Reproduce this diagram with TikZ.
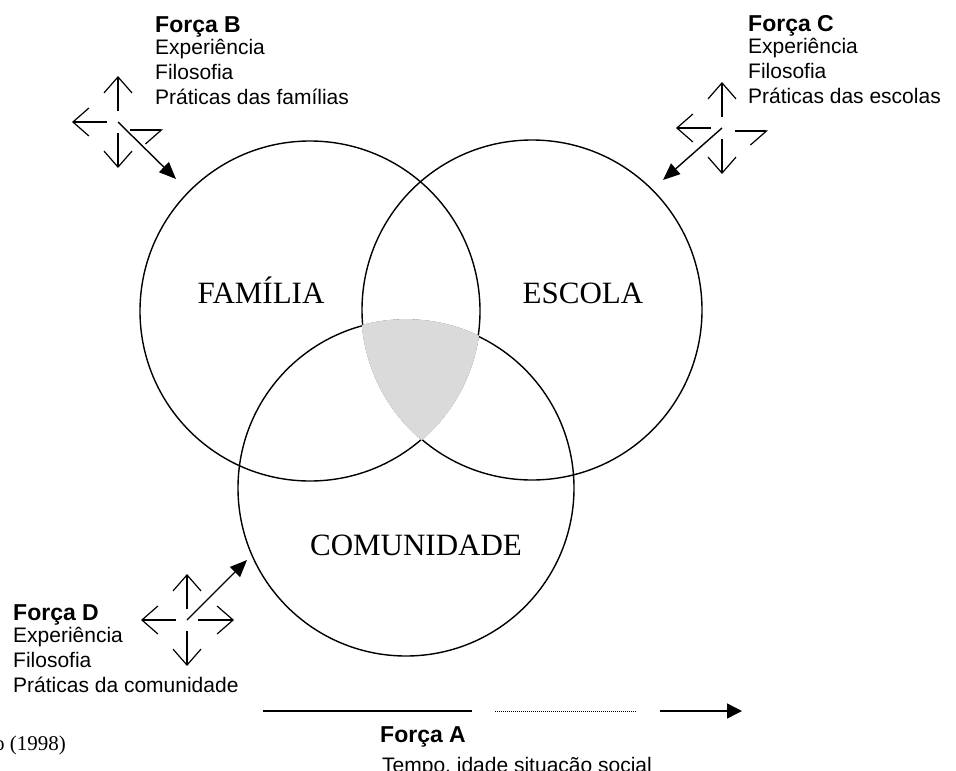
\documentclass[tikz,border=0pt]{standalone}
\usepackage{fontspec}
\setmainfont{Liberation Serif}
\newfontfamily\arial{Liberation Sans}
\usetikzlibrary{arrows.meta}
\definecolor{cinzaclaro}{RGB}{218,218,218}

\begin{document}
\begin{tikzpicture}[x=1pt, y=-1pt,
    circulo/.style={draw, line width=1.4pt},
    rotulo/.style={font=\fontsize{31}{31}\selectfont, inner sep=0pt, anchor=base},
    titulo/.style={font=\arial\bfseries\fontsize{23}{23}\selectfont, inner sep=0pt, anchor=base west},
    lista/.style={font=\arial\fontsize{21}{25}\selectfont, align=left, inner sep=0pt, anchor=north west},
    cruz/.style={line width=1.2pt, -{Straight Barb[length=16pt,width=28pt]}},
    meiacruz/.style={line width=1.2pt, -{Straight Barb[right,length=16pt,width=28pt]}},
    seta/.style={line width=1.4pt, -{Triangle[length=17pt,width=14pt]}}]
  \useasboundingbox (0,0) rectangle (956,771);

  % centros dos tres circulos
  \coordinate (familia) at (310,311);
  \coordinate (escola) at (532,310);
  \coordinate (comunidade) at (406,488);

  \draw[circulo] (familia) circle[radius=170pt];
  \draw[circulo] (escola) circle[radius=170pt];
  \draw[circulo] (comunidade) circle[radius=168pt];

  % interseccao dos tres
  \begin{scope}
    \clip (familia) circle[radius=170.9pt];
    \clip (escola) circle[radius=170.9pt];
    \fill[cinzaclaro] (comunidade) circle[radius=168.9pt];
  \end{scope}

  \node[rotulo] (rfam) at (261,303) {FAMÍLIA};
  \node[rotulo] (resc) at (583,303) {ESCOLA};
  \node[rotulo] (rcom) at (416,555) {COMUNIDADE};

  % forcas B, C e D
  \node[titulo] (tituloB) at (155,32) {Força B};
  \node[lista] (listaB) at ([yshift=-2.5pt]tituloB.south west) {Experiência\\Filosofia\\Práticas das famílias};
  \node[titulo] (tituloC) at (748,31) {Força C};
  \node[lista] (listaC) at ([yshift=-2.5pt]tituloC.south west) {Experiência\\Filosofia\\Práticas das escolas};
  \node[titulo] (tituloD) at (13,620) {Força D};
  \node[lista] (listaD) at ([yshift=-2.5pt]tituloD.south west) {Experiência\\Filosofia\\Práticas da comunidade};

  % cruzes de setas
  \coordinate (cruzB) at (118,122);
  \coordinate (cruzC) at (722,128);
  \coordinate (cruzD) at (187,620);
  \foreach \c in {cruzB, cruzC, cruzD} {
    \draw[cruz] ([yshift=11pt]\c) -- ([yshift=46pt]\c);
    \draw[cruz] ([yshift=-11pt]\c) -- ([yshift=-46pt]\c);
    \draw[cruz] ([xshift=-11pt]\c) -- ([xshift=-46pt]\c);
  }
  \draw[meiacruz] ([shift={(12pt,-8pt)}]cruzB) -- ([shift={(45pt,-8pt)}]cruzB);
  \draw[meiacruz] ([shift={(13pt,-3pt)}]cruzC) -- ([shift={(46pt,-3pt)}]cruzC);
  \draw[cruz] ([xshift=11pt]cruzD) -- ([xshift=47pt]cruzD);

  % setas para os circulos
  \coordinate (pontaB) at (176,179);
  \coordinate (pontaC) at (663,180);
  \coordinate (pontaD) at (247,560);
  \draw[seta] (cruzB) -- (pontaB);
  \draw[seta] (cruzC) -- (pontaC);
  \draw[seta] (cruzD) -- (pontaD);

  % forca A
  \coordinate (a0) at (263,711);
  \coordinate (a1) at (472,711);
  \coordinate (a2) at (495,711);
  \coordinate (a3) at (637,711);
  \coordinate (a4) at (660,711);
  \coordinate (a5) at (742,711);
  \draw[line width=1.4pt] (a0) -- (a1);
  \draw[line width=0.8pt, dash pattern=on 1pt off 1pt] (a2) -- (a3);
  \draw[line width=1.4pt, -{Triangle[length=15pt,width=15pt]}] (a4) -- (a5);
  \node[titulo] (tituloA) at (380,742) {Força A};
  \node[titulo, font=\arial\fontsize{21}{21}\selectfont] (listaA) at (382,772) {Tempo, idade situação social};

  \node[inner sep=0pt, anchor=base west, font=\fontsize{21}{21}\selectfont] (fonte) at (-6,750) {o (1998)};
\end{tikzpicture}
\end{document}
